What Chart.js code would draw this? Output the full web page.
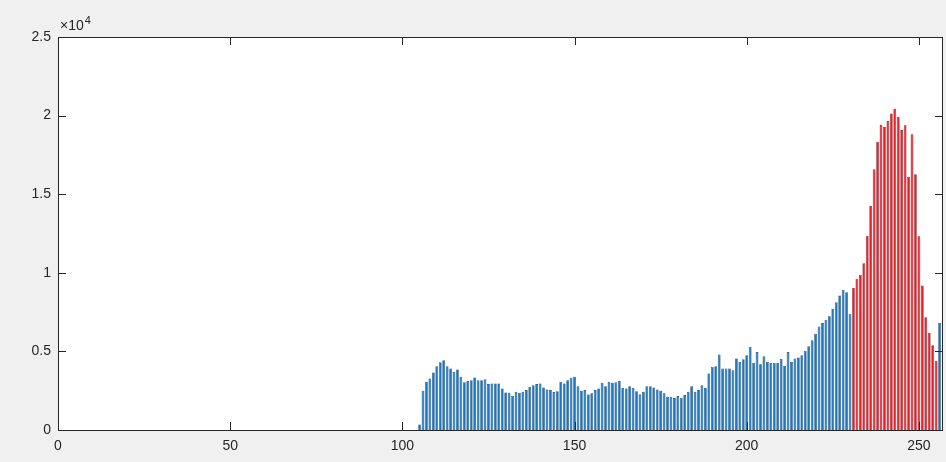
<!DOCTYPE html>
<html>
<head>
<meta charset="utf-8">
<script src="https://cdn.jsdelivr.net/npm/chart.js@4.4.0/dist/chart.umd.min.js"></script>
<style>
  body { margin: 0; background: #f0f0f0; }
  #hist { display: block; }
</style>
</head>
<body>
<canvas id="hist" width="946" height="462"></canvas>
<script>
// histogram counts, bins are 1..256 (MATLAB style indexing)
const blueStart = 105
const blueCounts = [
  350, 2490, 3060, 3280, 3660, 4060, 4310, 4440, 4060, 3910,
  3700, 3850, 3380, 3040, 3110, 3170, 3340, 3170, 3170, 3230,
  2920, 2960, 2960, 2960, 2640, 2390, 2365, 2170, 2430, 2365,
  2430, 2540, 2750, 2850, 2920, 2960, 2710, 2580, 2540, 2410,
  2470, 3060, 2960, 3170, 3330, 3380, 2790, 2490, 2540, 2260,
  2330, 2540, 2640, 3000, 2790, 3060, 3000, 3040, 3110, 2680,
  2640, 2790, 2680, 2470, 2280, 2430, 2790, 2790, 2710, 2580,
  2490, 2330, 2110, 2110, 2030, 2160, 2050, 2220, 2430, 2790,
  2430, 2540, 2850, 2680, 3600, 4010, 4060, 4800, 3910, 3910,
  3910, 3800, 4550, 4330, 4500, 4760, 5300, 4280, 4960, 4180,
  4690, 4330, 4270, 4270, 4270, 4520, 4080, 4960, 4330, 4550,
  4610, 4760, 5030, 5330, 5710, 6130, 6590, 6800, 7020, 7230,
  7720, 8130, 8560, 8920, 8770, 7400
]
const redStart = 231
const redCounts = [
  9050, 9620, 9870, 10610, 12360, 14260, 16590, 18340, 19400, 19270,
  19650, 20140, 20430, 19910, 19080, 19380, 16100, 18810, 16270, 12320,
  9190, 7180, 6190, 5390, 4400
]
const lastBin = 256
const lastCount = 6830

const xTicks = [0, 50, 100, 150, 200, 250]
const yTicks = [0, 5000, 10000, 15000, 20000, 25000]

const bluePoints = blueCounts.map((v, i) => ({ x: blueStart + i, y: v }))
bluePoints.push({ x: lastBin, y: lastCount })
const redPoints = redCounts.map((v, i) => ({ x: redStart + i, y: v }))

const axisColor = '#262626'
const fontFamily = '"Liberation Sans", Arial, Helvetica, sans-serif'

// grey figure background + white axes
const backdrop = {
  id: 'backdrop',
  beforeDraw(chart) {
    const { ctx, chartArea: a } = chart
    ctx.save()
    ctx.fillStyle = '#f0f0f0'
    ctx.fillRect(0, 0, chart.width, chart.height)
    ctx.fillStyle = '#ffffff'
    ctx.fillRect(a.left, a.top, a.right - a.left, a.bottom - a.top)
    ctx.restore()
  }
}

// box + inward ticks on all four sides, and the x10^4 multiplier
const matlabBox = {
  id: 'matlabBox',
  afterDatasetsDraw(chart) {
    const { ctx, chartArea: a, scales } = chart
    const len = 8
    ctx.save()
    ctx.strokeStyle = axisColor
    ctx.lineWidth = 1
    ctx.beginPath()
    xTicks.forEach(v => {
      const px = Math.round(scales.x.getPixelForValue(v)) + 0.5
      ctx.moveTo(px, a.bottom); ctx.lineTo(px, a.bottom - len)
      ctx.moveTo(px, a.top); ctx.lineTo(px, a.top + len)
    })
    yTicks.forEach(v => {
      const py = Math.round(scales.y.getPixelForValue(v)) + 0.5
      ctx.moveTo(a.left, py); ctx.lineTo(a.left + len, py)
      ctx.moveTo(a.right, py); ctx.lineTo(a.right - len, py)
    })
    ctx.stroke()
    ctx.strokeRect(Math.round(a.left) + 0.5, Math.round(a.top) + 0.5,
      Math.round(a.right - a.left) - 1, Math.round(a.bottom - a.top))

    ctx.fillStyle = axisColor
    ctx.textBaseline = 'alphabetic'
    ctx.font = '14px ' + fontFamily
    ctx.fillText('\u00d710', a.left + 2, a.top - 7)
    const w = ctx.measureText('\u00d710').width
    ctx.font = '11px ' + fontFamily
    ctx.fillText('4', a.left + 2 + w + 1, a.top - 13)
    ctx.restore()
  }
}

new Chart(document.getElementById('hist'), {
  type: 'bar',
  data: {
    datasets: [
      {
        data: bluePoints,
        backgroundColor: '#1c77c3',
        borderColor: '#0b3d66',
        borderWidth: 0.6,
        grouped: false,
        barPercentage: 0.8,
        categoryPercentage: 1.0,
      },
      {
        data: redPoints,
        backgroundColor: '#ec1e28',
        borderColor: '#7c141a',
        borderWidth: 0.6,
        grouped: false,
        barPercentage: 0.8,
        categoryPercentage: 1.0,
      },
    ]
  },
  options: {
    responsive: false,
    animation: false,
    devicePixelRatio: 1,
    layout: { padding: { top: 37, right: 3, left: 0, bottom: 0 } },
    plugins: {
      legend: { display: false },
      tooltip: { enabled: false },
    },
    scales: {
      x: {
        type: 'linear',
        min: 0,
        max: 257,
        offset: false,
        grid: { display: false, drawTicks: false, offset: false },
        border: { display: false },
        afterBuildTicks: (scale) => { scale.ticks = xTicks.map(v => ({ value: v })) },
        afterFit: (scale) => { scale.height = 32 },
        ticks: {
          color: axisColor,
          padding: 8,
          maxRotation: 0,
          font: { family: fontFamily, size: 14 },
        },
      },
      y: {
        min: 0,
        max: 25000,
        grid: { display: false, drawTicks: false },
        border: { display: false },
        afterBuildTicks: (scale) => { scale.ticks = yTicks.map(v => ({ value: v })) },
        afterFit: (scale) => { scale.width = 58 },
        ticks: {
          color: axisColor,
          padding: 7,
          font: { family: fontFamily, size: 14 },
          callback: (v) => String(v / 10000),
        },
      },
    },
  },
  plugins: [backdrop, matlabBox],
})
</script>
</body>
</html>
